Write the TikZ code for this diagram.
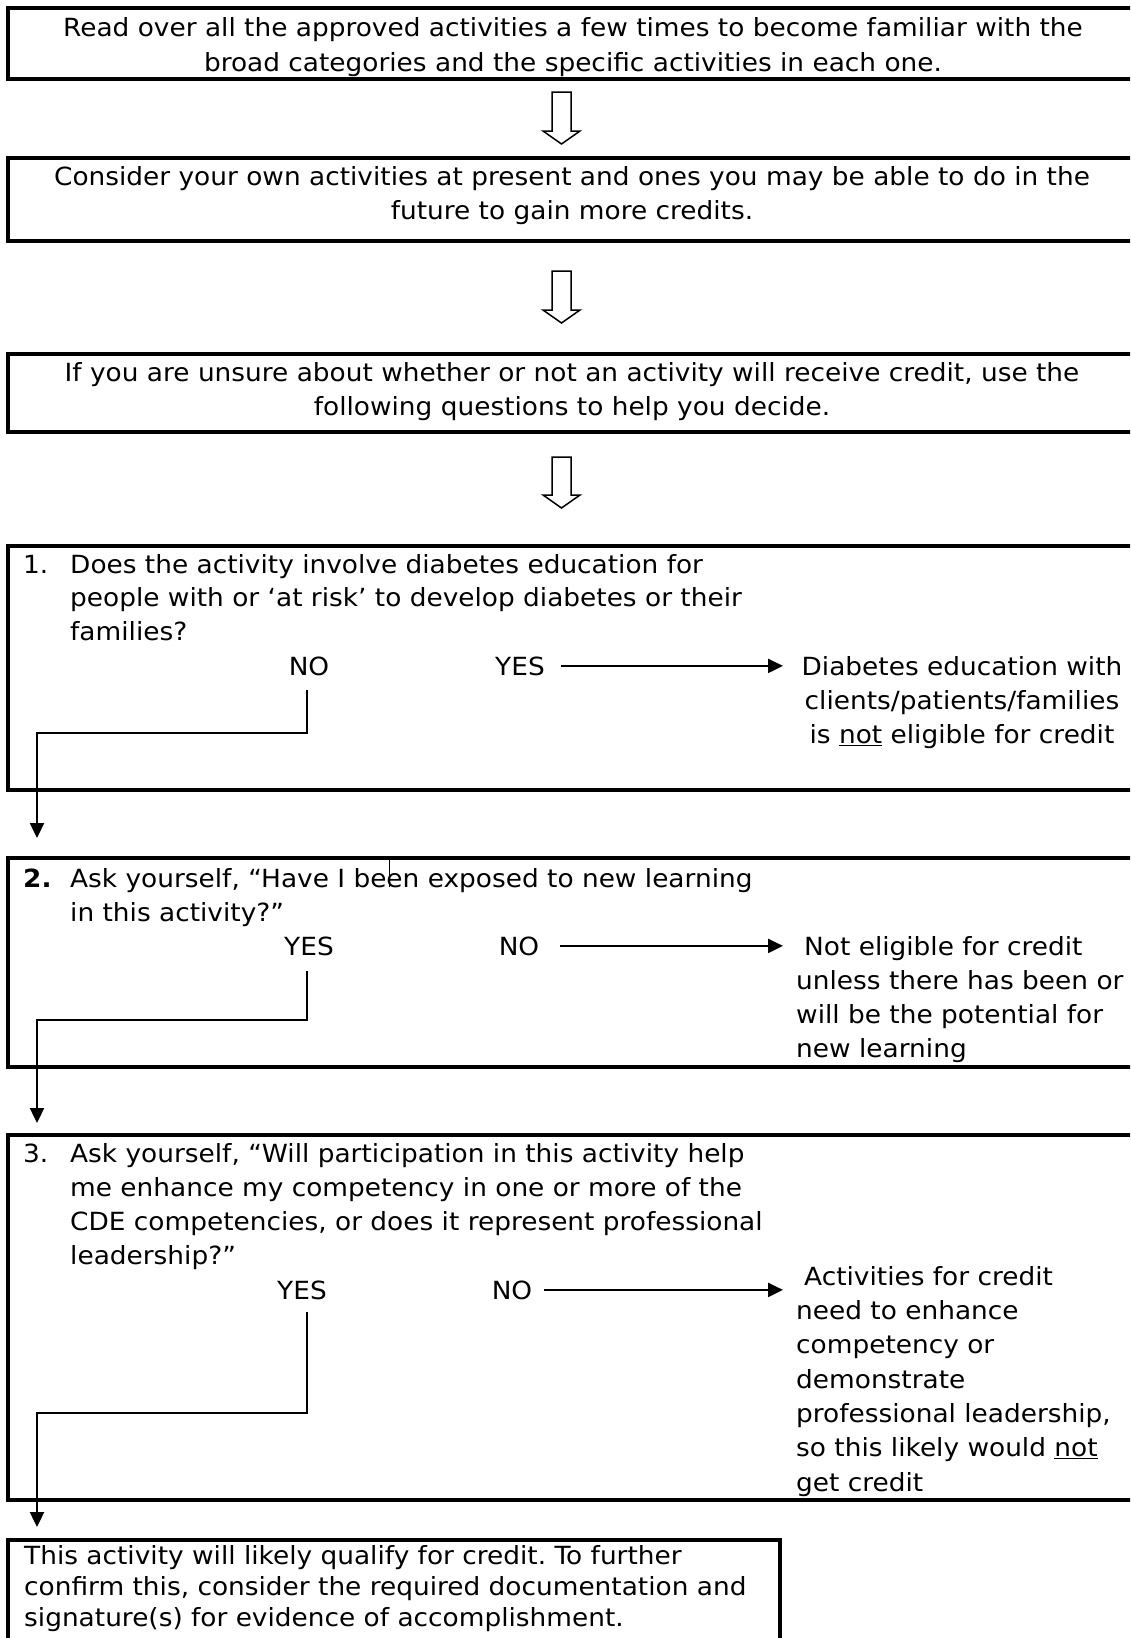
\documentclass[tikz,border=0pt]{standalone}
\usepackage{fontspec}
\setmainfont[FakeStretch=1.055]{DejaVu Sans}
\usetikzlibrary{arrows.meta}
\frenchspacing
\begin{document}
\begin{tikzpicture}[x=1pt,y=-1pt,
  box/.style={draw=black,line width=4pt},
  txt/.style={inner sep=0pt,font=\fontsize{25}{34}\selectfont},
  txtc/.style={txt,align=center,anchor=base},
  txtl/.style={txt,align=left,anchor=base west},
  conn/.style={draw=black,line width=2.3pt,line join=miter},
  arr/.style={conn,-{Triangle[width=14pt,length=15pt]}},
  hollow/.style={draw=black,line width=1.5pt,fill=white,line join=miter}]
\path[use as bounding box] (0,0) rectangle (1130,1638);
\clip (0,0) rectangle (1130,1638);
\fill[white] (0,0) rectangle (1130,1638);

% boxes
\draw[box] (8,8) rectangle (1150,78.5);
\draw[box] (8,158) rectangle (1150,241);
\draw[box] (8,354) rectangle (1150,432);
\draw[box] (8,546) rectangle (1150,790);
\draw[box] (8,858) rectangle (1150,1067);
\draw[box] (8,1135) rectangle (1150,1500);
\draw[box] (8,1540) rectangle (780,1660);

% hollow block arrows
\newcommand{\blockarrow}[2]{%
  \draw[hollow] (552,#1) -- (552,#2-13) -- (543,#2-13) -- (561.5,#2) -- (580,#2-13) -- (571,#2-13) -- (571,#1) -- cycle;}
\blockarrow{92}{144}
\blockarrow{271}{323}
\blockarrow{457}{508}

% top boxes text (anchor = baseline of last line)
\node[txtc,font=\fontsize{25}{35}\selectfont] (t1) at (573,71) {Read over all the approved activities a few times to become familiar with the\\broad categories and the specific activities in each one.};
\node[txtc] (t2) at (572,219) {Consider your own activities at present and ones you may be able to do in the\\future to gain more credits.};
\node[txtc] (t3) at (572,415) {If you are unsure about whether or not an activity will receive credit, use the\\following questions to help you decide.};

% question 1
\node[txtl] (n1) at (23,573) {1.};
\node[txtl,font=\fontsize{25}{33.5}\selectfont] (q1) at (70,640) {Does the activity involve diabetes education for\\people with or ‘at risk’ to develop diabetes or their\\families?};
\node[txtc] (no1) at (309,675) {NO};
\node[txtc] (yes1) at (520,675) {YES};
\node[txtc] (r1) at (962,743) {Diabetes education with\\clients/patients/families\\is \underline{not} eligible for credit};
\coordinate (r1tip) at (783,667);
\draw[arr] ([xshift=16pt]yes1.east) -- (yes1.east -| r1tip);
\coordinate (d1a) at (307,690);
\coordinate (d1c) at (37,733);
\coordinate (d1b) at (37,838);
\draw[arr] (d1a) |- (d1c) -- (d1b);

% question 2
\node[txtl] (n2) at (23,887) {\bfseries 2.};
\node[txtl] (q2) at (70,921) {Ask yourself, “Have I been exposed to new learning\\in this activity?”};
\draw[line width=1pt] (389,858) -- (389,887);
\node[txtc] (yes2) at (309,955) {YES};
\node[txtc] (no2) at (519,955) {NO};
\node[txtl] (r2) at (796,1057) {\hspace{8pt}Not eligible for credit\\unless there has been or\\will be the potential for\\new learning};
\coordinate (r2tip) at (783,947);
\draw[arr] ([xshift=21pt]no2.east) -- (no2.east -| r2tip);
\coordinate (d2a) at (307,971);
\coordinate (d2c) at (37,1020);
\coordinate (d2b) at (37,1123);
\draw[arr] (d2a) |- (d2c) -- (d2b);

% question 3
\node[txtl] (n3) at (23,1162) {3.};
\node[txtl] (q3) at (70,1264) {Ask yourself, “Will participation in this activity help\\me enhance my competency in one or more of the\\CDE competencies, or does it represent professional\\leadership?”};
\node[txtc] (yes3) at (302,1299) {YES};
\node[txtc] (no3) at (512,1299) {NO};
\node[txtl,font=\fontsize{25}{34.3}\selectfont] (r3) at (796,1491) {\hspace{8pt}Activities for credit\\need to enhance\\competency or\\demonstrate\\professional leadership,\\so this likely would \underline{not}\\get credit};
\coordinate (r3tip) at (783,1291);
\draw[arr] ([xshift=12pt]no3.east) -- (no3.east -| r3tip);
\coordinate (d3a) at (307,1312);
\coordinate (d3c) at (37,1413);
\coordinate (d3b) at (37,1527);
\draw[arr] (d3a) |- (d3c) -- (d3b);

% final box
\node[txtl,font=\fontsize{25}{31}\selectfont] (f) at (24,1626) {This activity will likely qualify for credit. To further\\confirm this, consider the required documentation and\\signature(s) for evidence of accomplishment.};
\end{tikzpicture}
\end{document}
